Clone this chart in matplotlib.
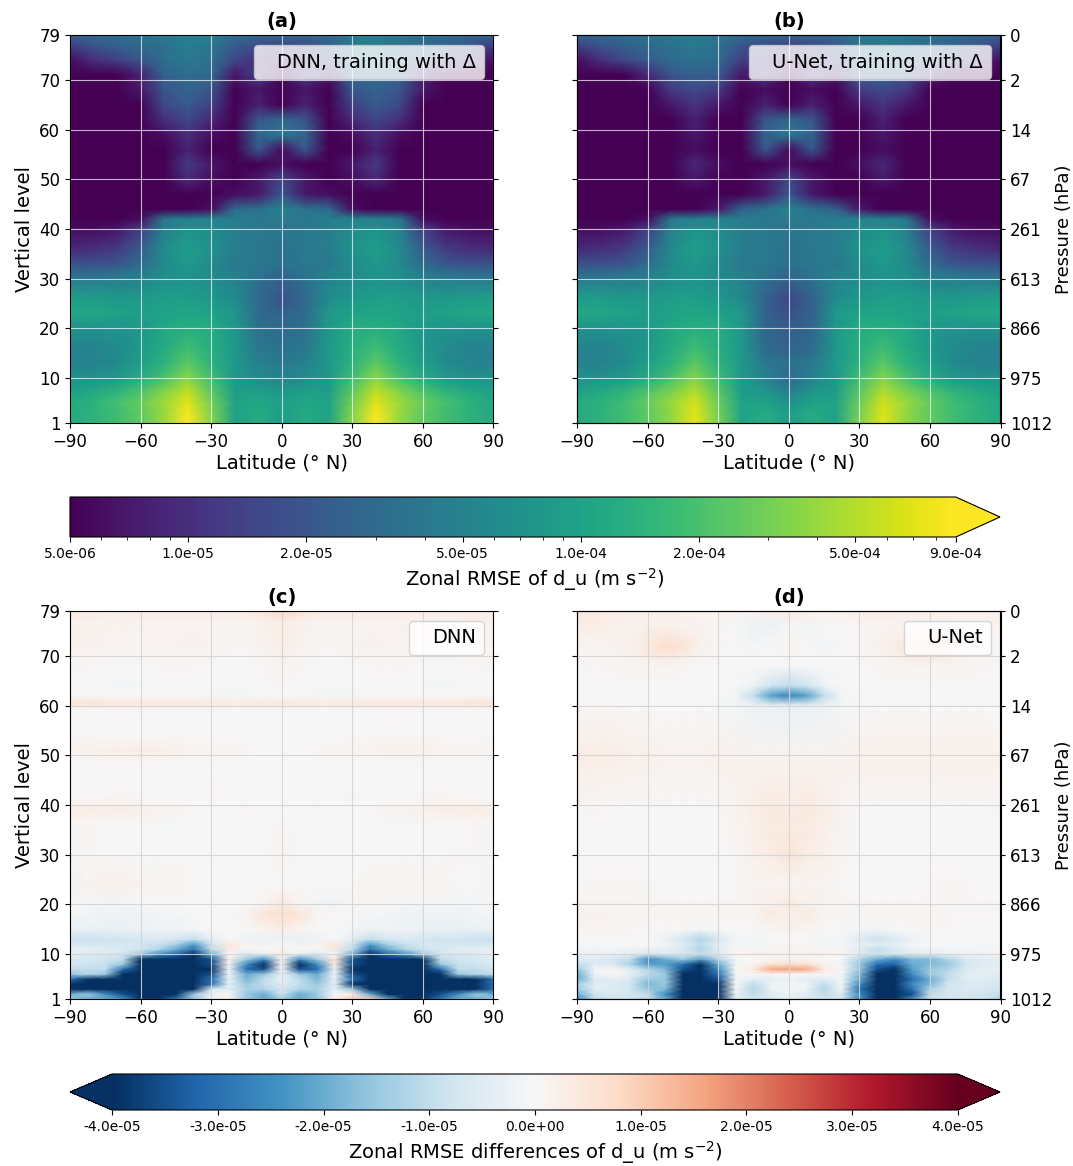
import matplotlib
matplotlib.use('Agg')
import matplotlib.pyplot as plt
from matplotlib.colors import LogNorm, Normalize
from matplotlib.cm import ScalarMappable
import numpy as np

# latitudes and levels of the RMSE panels, values are in 1e-5 m s-2
lat_rmse = [-90, -80, -70, -60, -50, -40, -30, -20, -10, 0, 10, 20, 30, 40, 50, 60, 70, 80, 90]
lev_rmse = [1, 3, 5, 7, 10, 13, 16, 20, 23, 26, 30, 33, 36, 40, 42, 44, 47, 50, 53, 56, 59, 62, 65, 68, 71, 74, 77, 79]

rmse_dnn = [
    [12, 14, 18, 25, 40, 90, 35, 10, 12, 9, 12, 10, 35, 90, 40, 25, 18, 14, 12],
    [12, 14, 18, 25, 40, 85, 33, 10, 12, 9, 12, 10, 33, 85, 40, 25, 18, 14, 11],
    [12, 14, 19, 27, 42, 72, 30, 10, 11, 9, 11, 10, 30, 72, 42, 27, 19, 14, 11],
    [10, 12, 15, 22, 35, 58, 25, 9, 10, 8, 10, 9, 25, 58, 35, 22, 15, 12, 10],
    [7, 7, 8, 12, 20, 36, 18, 8, 6, 5, 6, 8, 18, 36, 20, 12, 8, 7, 7],
    [5, 5, 6, 9, 14, 25, 14, 8, 5, 4, 5, 8, 14, 25, 14, 9, 6, 5, 5],
    [5, 5, 6, 8, 12, 18, 13, 8, 4, 3.5, 4, 8, 13, 18, 12, 8, 6, 5, 5],
    [7, 7, 7, 8, 11, 13, 12, 8, 3.5, 3, 3.5, 8, 12, 13, 11, 8, 7, 7, 7],
    [11, 11, 10, 9, 10, 11, 10, 8, 3, 2.5, 3, 8, 10, 11, 10, 9, 10, 11, 11],
    [9, 9, 8, 8, 9, 9, 8, 6, 3, 1.8, 3, 6, 8, 9, 9, 8, 8, 9, 9],
    [4, 4, 4.5, 5, 6.5, 7, 6, 5, 3.5, 2.5, 3.5, 5, 6, 7, 6.5, 5, 4.5, 4, 4],
    [1.8, 1.8, 2, 3, 6, 8, 6, 4, 4, 3.5, 4, 4, 6, 8, 6, 3, 2, 1.8, 1.8],
    [0.9, 1, 1.2, 2.2, 6, 9, 7, 4.5, 4, 3.5, 4, 4.5, 7, 9, 6, 2.2, 1.2, 1, 0.9],
    [0.6, 0.6, 0.7, 1.3, 5, 7, 6, 4.5, 4, 3.8, 4, 4.5, 6, 7, 5, 1.3, 0.7, 0.6, 0.6],
    [0.5, 0.5, 0.5, 0.6, 4, 5, 5, 4.5, 4, 4, 4, 4.5, 5, 5, 4, 0.6, 0.5, 0.5, 0.5],
    [0.45, 0.45, 0.45, 0.45, 0.5, 0.5, 0.6, 3, 3.5, 5, 3.5, 3, 0.6, 0.5, 0.5, 0.45, 0.45, 0.45, 0.45],
    [0.45, 0.45, 0.45, 0.45, 0.45, 0.5, 0.45, 0.6, 0.7, 2, 0.7, 0.6, 0.45, 0.5, 0.45, 0.45, 0.45, 0.45, 0.45],
    [0.45, 0.45, 0.45, 0.45, 0.5, 0.9, 0.6, 0.45, 0.7, 1.5, 0.7, 0.45, 0.6, 0.9, 0.5, 0.45, 0.45, 0.45, 0.45],
    [0.45, 0.45, 0.45, 0.45, 0.5, 1.2, 0.7, 0.45, 0.5, 0.6, 0.5, 0.45, 0.7, 1.2, 0.5, 0.45, 0.45, 0.45, 0.45],
    [0.45, 0.45, 0.45, 0.45, 0.5, 0.8, 0.5, 0.45, 2, 0.6, 2, 0.45, 0.5, 0.8, 0.5, 0.45, 0.45, 0.45, 0.45],
    [0.45, 0.45, 0.45, 0.45, 0.6, 1, 0.6, 0.45, 2.8, 4, 2.8, 0.45, 0.6, 1, 0.6, 0.45, 0.45, 0.45, 0.45],
    [0.45, 0.45, 0.45, 0.45, 1, 1.5, 0.9, 0.45, 2, 2.8, 2, 0.45, 0.9, 1.5, 1, 0.45, 0.45, 0.45, 0.45],
    [0.45, 0.45, 0.45, 0.5, 1.6, 2.2, 1.4, 0.45, 0.8, 0.5, 0.8, 0.45, 1.4, 2.2, 1.6, 0.5, 0.45, 0.45, 0.45],
    [0.45, 0.45, 0.45, 0.7, 2, 2.6, 2, 0.5, 0.7, 0.45, 0.7, 0.5, 2, 2.6, 2, 0.7, 0.45, 0.45, 0.45],
    [0.45, 0.5, 0.5, 0.8, 2.5, 3.2, 2.8, 0.7, 1.3, 0.5, 1.3, 0.7, 2.8, 3.2, 2.5, 0.8, 0.5, 0.5, 0.45],
    [0.6, 1, 1.3, 2, 3.2, 4, 3.5, 1.5, 1, 0.7, 1, 1.5, 3.5, 4, 3.2, 2, 1.3, 1, 0.6],
    [1.3, 2, 2.5, 3, 3.5, 4.5, 4, 2.2, 1.7, 1.5, 1.7, 2.2, 4, 4.5, 3.5, 3, 2.5, 2, 1.3],
    [2.5, 2.8, 3, 3.5, 4, 5, 4.5, 3, 2.8, 2.8, 2.8, 3, 4.5, 5, 4, 3.5, 3, 2.8, 2.5],
]

rmse_unet = [
    [12, 14, 18, 25, 38, 75, 32, 10, 12, 9, 12, 10, 32, 72, 38, 25, 18, 14, 12],
    [12, 14, 18, 25, 38, 72, 30, 10, 12, 9, 12, 10, 30, 70, 38, 25, 18, 14, 11],
    [12, 14, 18, 26, 40, 65, 28, 10, 10, 7, 10, 10, 28, 62, 40, 26, 18, 14, 11],
    [10, 12, 15, 22, 33, 52, 24, 9, 8, 5, 8, 9, 24, 50, 33, 22, 15, 12, 10],
    [7, 7, 8, 12, 20, 34, 18, 8, 5, 2.8, 5, 8, 18, 34, 20, 12, 8, 7, 7],
    [5, 5, 6, 9, 14, 24, 14, 8, 4, 3.5, 4, 8, 14, 24, 14, 9, 6, 5, 5],
    [5, 5, 6, 8, 12, 18, 13, 8, 3, 2.5, 3, 8, 13, 18, 12, 8, 6, 5, 5],
    [7, 7, 7, 8, 11, 13, 12, 8, 2.8, 2.2, 2.8, 8, 12, 13, 11, 8, 7, 7, 7],
    [11, 11, 10, 9, 10, 11, 10, 8, 2.5, 1.8, 2.5, 8, 10, 11, 10, 9, 10, 11, 11],
    [9, 9, 8, 8, 9, 9, 8, 6, 2.5, 1.5, 2.5, 6, 8, 9, 9, 8, 8, 9, 9],
    [4, 4, 4.5, 5, 6.5, 7, 6, 5, 3.5, 2.5, 3.5, 5, 6, 7, 6.5, 5, 4.5, 4, 4],
    [1.8, 1.8, 2, 3, 6, 8, 6, 4, 4, 3.5, 4, 4, 6, 8, 6, 3, 2, 1.8, 1.8],
    [0.9, 1, 1.2, 2.2, 6, 9, 7, 4.5, 4, 3.5, 4, 4.5, 7, 9, 6, 2.2, 1.2, 1, 0.9],
    [0.6, 0.6, 0.7, 1.3, 5, 7, 6, 4.5, 4, 3.8, 4, 4.5, 6, 7, 5, 1.3, 0.7, 0.6, 0.6],
    [0.5, 0.5, 0.5, 0.6, 4, 5, 5, 4.5, 4, 4, 4, 4.5, 5, 5, 4, 0.6, 0.5, 0.5, 0.5],
    [0.45, 0.45, 0.45, 0.45, 0.5, 0.5, 0.7, 2.5, 3.5, 5, 3.5, 2.5, 0.7, 0.5, 0.5, 0.45, 0.45, 0.45, 0.45],
    [0.45, 0.45, 0.45, 0.45, 0.45, 0.45, 0.45, 0.5, 0.7, 2, 0.7, 0.5, 0.45, 0.45, 0.45, 0.45, 0.45, 0.45, 0.45],
    [0.45, 0.45, 0.45, 0.45, 0.45, 0.7, 0.5, 0.45, 0.7, 1.5, 0.7, 0.45, 0.5, 0.7, 0.45, 0.45, 0.45, 0.45, 0.45],
    [0.45, 0.45, 0.45, 0.45, 0.5, 0.9, 0.6, 0.45, 0.5, 0.6, 0.5, 0.45, 0.6, 0.9, 0.5, 0.45, 0.45, 0.45, 0.45],
    [0.45, 0.45, 0.45, 0.45, 0.45, 0.6, 0.45, 0.45, 2, 0.6, 2, 0.45, 0.45, 0.6, 0.45, 0.45, 0.45, 0.45, 0.45],
    [0.45, 0.45, 0.45, 0.45, 0.5, 0.7, 0.5, 0.45, 2.6, 4, 2.6, 0.45, 0.5, 0.7, 0.5, 0.45, 0.45, 0.45, 0.45],
    [0.45, 0.45, 0.45, 0.45, 0.5, 0.8, 0.5, 0.45, 2, 2.8, 2, 0.45, 0.5, 0.8, 0.5, 0.45, 0.45, 0.45, 0.45],
    [0.45, 0.45, 0.45, 0.45, 0.7, 1.1, 0.7, 0.45, 0.8, 0.5, 0.8, 0.45, 0.7, 1.1, 0.7, 0.45, 0.45, 0.45, 0.45],
    [0.45, 0.45, 0.45, 0.5, 1.2, 1.6, 1.2, 0.45, 0.6, 0.45, 0.6, 0.45, 1.2, 1.6, 1.2, 0.5, 0.45, 0.45, 0.45],
    [0.45, 0.45, 0.5, 0.9, 2, 2.5, 2.2, 0.7, 1.2, 0.5, 1.2, 0.7, 2.2, 2.5, 2, 0.9, 0.5, 0.45, 0.45],
    [0.6, 1, 1.5, 2.2, 3, 3.5, 3, 1.3, 1, 0.7, 1, 1.3, 3, 3.5, 3, 2.2, 1.5, 1, 0.6],
    [1.4, 2, 2.5, 3, 3.5, 4.2, 3.5, 2, 1.6, 1.4, 1.6, 2, 3.5, 4.2, 3.5, 3, 2.5, 2, 1.4],
    [2.5, 2.8, 3, 3.5, 4, 4.5, 4, 3, 2.8, 2.8, 2.8, 3, 4, 4.5, 4, 3.5, 3, 2.8, 2.5],
]

# latitudes and levels of the difference panels, also in 1e-5 m s-2
lat_diff = [-90, -82.5, -75, -67.5, -60, -52.5, -45, -37.5, -30, -22.5, -15, -7.5, 0,
            7.5, 15, 22.5, 30, 37.5, 45, 52.5, 60, 67.5, 75, 82.5, 90]
lev_dnn = [1, 2, 3, 4, 5, 6, 7, 8, 9, 10, 11, 12, 13, 15, 18, 20, 24, 30, 36, 39, 42, 48, 51, 54, 59, 60.5,
           62, 64, 68, 72, 77, 79]
lev_unet = [1, 2, 3, 4, 5, 6, 7, 8, 9, 10, 11, 12, 13, 15, 18, 20, 24, 30, 39, 50, 60, 62, 64, 68, 72, 76, 79]

diff_dnn = [
    [-1.5, -2, -2, -2.5, -4, -4, -3, -1.5, -0.3, 0.3, -1.5, -2, -1.5, -2, -1.5, 0.3, 1, 1, -2, -4, -4, -3, -2, -2, -1.5],
    [-2, -1.5, -2.5, -3.5, -4, -4, -4, -1.5, -0.2, 0, -1.5, -2, -0.8, -2, -1.5, 0, 0.3, -2, -4, -4, -4, -3.5, -2.5, -1.5, -2],
    [-4, -4, -4, -4, -4, -4, -4, -4, -0.6, -0.4, -1.3, -1.2, -0.7, -1.2, -1.3, -0.4, -1.5, -4, -4, -4, -4, -4, -4, -4, -3],
    [-4, -4, -4, -4, -4, -4, -4, -4, -3, -0.4, -1.5, -1, -0.5, -1, -1.5, -0.4, -4, -4, -4, -4, -4, -4, -4, -4, -3],
    [-3, -4, -4, -4, -4, -4, -4, -4, -3, -0.3, -1.8, -1, -0.3, -1, -1.8, -0.3, -3, -4, -4, -4, -4, -4, -4, -4, -3],
    [-1.5, -1.2, -1.5, -4, -4, -4, -4, -4, -3.5, -0.2, -2, -1.5, -0.3, -1.5, -2, -0.2, -3.5, -4, -4, -4, -4, -4, -1.5, -1.2, -1],
    [-1, -1, -1, -3, -4, -4, -4, -4, -4, -0.2, -3, -3.5, 0, -3.5, -3, -0.2, -4, -4, -4, -4, -4, -3, -1, -1, -0.8],
    [-0.7, -0.8, -0.9, -1.5, -4, -4, -4, -4, -3.5, 0.2, -2.5, -4, 0, -4, -2.5, 0.4, -3.5, -4, -4, -4, -4, -1.5, -0.9, -0.8, -0.6],
    [-0.6, -0.7, -0.8, -1, -4, -4, -4, -4, -3.5, 0.3, -1.5, -2.5, 0.1, -2.5, -1.5, 0.5, -3.5, -4, -4, -4, -4, -1, -0.8, -0.7, -0.5],
    [-0.4, -0.5, -0.6, -0.8, -1.5, -2.5, -3.2, -4, -2, 0, -0.6, -0.3, 0.3, -0.3, -0.6, 0, -2, -4, -3.2, -2.5, -1.5, -0.8, -0.6, -0.5, -0.4],
    [-0.3, -0.4, -0.5, -0.6, -0.8, -1.2, -2, -3, -1, 0.4, -0.1, 0, 0.1, 0, -0.1, 0.4, -1, -3, -2, -1.2, -0.8, -0.6, -0.5, -0.4, -0.3],
    [-0.7, -0.7, -0.7, -0.7, -0.7, -0.9, -1.3, -2.2, -0.8, 0.4, 0.1, -0.2, 0, -0.2, 0.1, 0.4, -0.8, -2.2, -1.3, -0.9, -0.7, -0.7, -0.7, -0.7, -0.7],
    [-0.9, -0.9, -0.8, -0.8, -0.7, -0.6, -0.7, -1, -0.4, 0, -0.2, -0.3, -0.2, -0.3, -0.2, 0, -0.4, -1, -0.7, -0.6, -0.7, -0.8, -0.8, -0.9, -0.9],
    [-0.3, -0.3, -0.3, -0.3, -0.2, -0.2, -0.2, -0.1, 0, 0, 0, 0.1, 0.3, 0.1, 0, 0, -0.1, -0.2, -0.2, -0.2, -0.3, -0.3, -0.3, -0.3, -0.3],
    [-0.1, -0.1, -0.2, -0.2, -0.2, -0.1, -0.1, 0, 0, 0, 0.1, 0.5, 0.7, 0.5, 0.1, 0, 0, -0.1, -0.1, -0.2, -0.2, -0.2, -0.2, -0.1, -0.1],
    [0, -0.1, -0.1, -0.1, 0, 0, 0, 0, 0, 0, 0, 0.1, 0.4, 0.1, -0.1, -0.2, 0, 0.1, 0, -0.1, -0.1, -0.1, -0.1, -0.1, 0],
    [-0.2, 0.1, 0.2, 0.2, 0.1, 0.1, 0.1, 0, 0, 0, 0, 0, 0, 0, 0, 0, 0, 0.1, 0.1, 0.1, 0.1, 0.1, 0, 0, -0.1],
    [0.05, 0.05, 0, 0, -0.05, -0.05, 0, 0, -0.05, 0, 0, 0, 0.1, 0, 0, 0, -0.05, 0, 0, -0.05, 0, 0, 0.05, 0.05, 0.05],
    [0.05, 0.05, 0, 0, 0, -0.05, -0.05, 0, 0, 0, 0, 0, 0.05, 0, 0, 0, 0, 0, -0.05, -0.05, 0, 0, 0, 0.05, 0.05],
    [0.25, 0.3, 0.3, 0.3, 0.2, 0.15, 0.1, 0, 0, 0, 0.05, 0, 0, 0, 0.05, 0, 0, 0, 0.1, 0.15, 0.2, 0.25, 0.3, 0.3, 0.3],
    [0, 0, 0, 0.05, 0, 0, 0, 0, 0.05, 0, 0, 0, 0, 0, 0, 0, 0.05, 0, 0, 0, 0, 0.05, 0, 0, 0],
    [-0.05, 0, 0, 0, 0, 0, 0, 0, 0, 0, 0, 0, 0, 0, 0, 0, 0, 0, 0, 0, 0, 0, 0, 0, -0.05],
    [0.1, 0.2, 0.25, 0.25, 0.3, 0.25, 0.2, 0.1, 0.1, 0.1, 0.05, 0, 0, 0, 0.05, 0.1, 0.1, 0.15, 0.2, 0.2, 0.2, 0.15, 0.1, 0.1, 0.05],
    [0.05, 0, 0, 0, 0, 0, 0, 0, 0, 0, 0, 0, 0, 0, 0, 0, 0, 0, 0, 0, 0, 0, 0, 0, 0.05],
    [0, 0, 0, 0.05, 0.05, 0, 0, 0, 0, 0, 0, 0, 0, 0, 0, 0, 0, 0, 0.05, 0.05, 0, 0, 0, 0, 0],
    [0.5, 0.5, 0.45, 0.4, 0.4, 0.35, 0.35, 0.4, 0.35, 0.3, 0.3, 0.35, 0.35, 0.35, 0.3, 0.3, 0.35, 0.4, 0.35, 0.35, 0.4, 0.4, 0.45, 0.5, 0.5],
    [-0.05, 0, 0, 0, 0, 0, 0, -0.05, -0.1, -0.1, -0.1, -0.05, 0, -0.05, -0.1, -0.1, -0.1, -0.05, 0, 0, 0, 0, 0, 0, -0.05],
    [0, 0, -0.05, -0.1, -0.05, 0, 0, 0, 0, 0, 0, 0, 0.05, 0, 0, 0, 0, 0, 0, 0, -0.05, -0.1, -0.05, 0, 0],
    [0.05, 0.05, 0, 0, 0, 0.05, 0.05, 0.05, 0, 0, 0, 0.05, 0.1, 0.05, 0, 0, 0, 0.05, 0.05, 0.05, 0, 0, 0, 0.05, 0.05],
    [0.15, 0.15, 0.1, 0.1, 0.1, 0.1, 0.1, 0.15, 0.1, 0.05, 0.05, 0.15, 0.3, 0.15, 0.05, 0.05, 0.1, 0.15, 0.1, 0.1, 0.1, 0.1, 0.1, 0.15, 0.15],
    [0.15, 0.2, 0.15, 0.15, 0.15, 0.1, 0.1, 0.1, 0.1, 0.1, 0.1, 0.2, 0.3, 0.2, 0.1, 0.1, 0.1, 0.1, 0.1, 0.15, 0.15, 0.15, 0.15, 0.2, 0.15],
    [0.35, 0.35, 0.3, 0.3, 0.35, 0.35, 0.4, 0.4, 0.35, 0.3, 0.4, 0.6, 0.9, 0.6, 0.4, 0.3, 0.35, 0.4, 0.4, 0.35, 0.35, 0.3, 0.3, 0.35, 0.35],
]

diff_unet = [
    [-2.5, -1, -0.8, -0.8, -1, -2, -4, -4, -4, -0.5, -0.8, -0.6, -0.3, -0.6, -0.8, -0.8, -2.5, -4, -4, -2.5, -0.9, -0.7, -0.7, -0.8, -1.2],
    [-2, -0.8, -0.6, -0.8, -1, -2.5, -4, -4, -4, -0.3, -1, -0.5, -0.2, -0.5, -1, -0.6, -2.5, -4, -4, -3.5, -1, -0.8, -0.7, -0.8, -1],
    [-1.5, -0.5, -0.5, -0.8, -1.5, -1.8, -4, -4, -4, -0.1, -1.2, -0.2, -0.1, -0.2, -1.2, -0.1, -3, -4, -4, -3, -1.2, -0.7, -0.6, -0.6, -0.8],
    [-1.3, -0.5, -0.5, -0.7, -1.8, -1.5, -4, -4, -4, 0, -1, -0.2, -0.1, -0.2, -1, -0.1, -2.5, -4, -4, -2.5, -1.8, -0.8, -0.6, -0.6, -0.7],
    [-2, -0.6, -0.4, -0.6, -1.5, -1.5, -4, -4, -3.5, -0.1, -0.4, -0.4, -0.2, -0.4, -0.5, -0.1, -2, -4, -4, -3, -2, -1, -0.5, -0.5, -0.6],
    [-2, -0.2, 0, -0.3, -1, -1.5, -4, -4, -3, -0.1, 0, 0.1, 0, 0, 0, -0.1, -1.8, -4, -4, -2.5, -1.5, -1, -0.5, -0.4, -0.5],
    [-1.5, -0.1, 0.1, -0.4, -1.2, -1.8, -3.5, -4, -2.5, 0, 0.4, 1.5, 1.6, 1.5, 0.4, 0, -1.5, -3.5, -4, -2.2, -1.5, -1.2, -0.6, -0.4, -0.4],
    [-1, -0.5, -0.6, -1.2, -2.2, -2.2, -3, -4, -2, -0.1, 0.1, 0.6, 0.7, 0.6, 0.1, -0.1, -1.5, -3, -3.2, -2, -1.8, -1.5, -0.8, -0.5, -0.5],
    [-0.5, -0.5, -0.7, -1, -2.5, -2, -1.5, -2.2, -1.2, -0.1, 0, 0.1, 0.1, 0.1, 0, -0.1, -1.2, -2, -2.5, -1.8, -1.8, -1.2, -0.6, -0.5, -0.4],
    [-0.3, -0.3, -0.3, -0.4, -0.8, -0.6, -0.6, -1, -0.5, 0.1, 0.2, 0.1, 0.2, 0.1, 0.2, 0.1, -0.5, -0.9, -0.7, -0.5, -0.4, -0.3, -0.2, -0.2, 0.1],
    [-0.1, -0.1, -0.1, -0.2, -0.3, -0.3, -0.6, -1.2, -0.5, 0, 0, 0.1, 0.1, 0.1, 0, 0, -0.5, -1, -0.6, -0.2, -0.2, -0.1, -0.1, -0.1, -0.1],
    [-0.1, -0.1, 0, 0, 0, -0.1, -0.5, -1, -0.4, -0.1, -0.1, 0, 0.1, 0, -0.1, -0.1, -0.3, -0.5, -0.4, -0.1, 0, 0, 0, -0.1, -0.1],
    [0, 0, 0, 0, 0, -0.3, -0.7, -1.2, -0.6, -0.1, -0.1, 0, 0, 0, -0.1, -0.1, -0.5, -0.9, -0.6, -0.2, 0, 0, 0, 0, 0],
    [0.1, 0.1, 0.1, 0.05, 0, 0, 0, -0.1, 0, 0, 0, 0.1, 0.2, 0.1, 0, 0, -0.1, -0.1, 0, 0, 0.05, 0.05, 0, 0, 0],
    [0.15, 0.15, 0.1, 0.1, 0.1, 0.1, 0.15, 0.1, 0.1, 0.05, 0.1, 0.35, 0.2, 0.35, 0.1, 0.05, 0.05, 0.1, 0.1, 0.1, 0.1, 0.05, 0.05, 0.05, 0.05],
    [0.1, 0.1, 0.1, 0.1, 0.05, 0.05, 0.05, 0.05, 0.05, 0.05, 0.1, 0.2, 0.4, 0.2, 0.1, 0.05, 0.05, 0.05, 0.05, 0.05, 0.05, 0.05, 0.05, 0.05, 0.05],
    [0.05, 0.05, 0.05, 0.05, 0.05, 0, 0, 0, 0, 0, 0.1, 0.1, 0.1, 0.1, 0.1, 0, 0, 0, 0, 0, 0.05, 0.05, 0.05, 0, 0],
    [0, 0, 0, 0, 0, 0, 0, 0, 0, 0.05, 0.2, 0.3, 0.5, 0.3, 0.2, 0.05, 0, 0, 0, 0, 0, 0, 0, 0, 0],
    [0.05, 0.05, 0, 0, 0, 0, 0, 0, 0, 0.1, 0.25, 0.4, 0.3, 0.4, 0.25, 0.1, 0, 0, 0, 0, 0, 0, 0, 0, 0.05],
    [0.3, 0.3, 0.25, 0.2, 0.2, 0.15, 0.15, 0.15, 0.2, 0.15, 0.1, 0.1, 0.1, 0.1, 0.1, 0.15, 0.2, 0.2, 0.2, 0.2, 0.2, 0.2, 0.2, 0.2, 0.15],
    [0.05, 0.05, 0.05, 0, 0, 0, 0, 0, -0.05, -0.1, -0.2, -0.3, -0.3, -0.3, -0.2, -0.1, -0.05, 0, 0, 0, 0, 0, 0, 0, 0],
    [0, 0, 0, 0, 0, 0, 0, 0, 0, -0.1, -1, -2.2, -2.6, -2.2, -1, -0.1, 0, 0, 0, 0, 0, 0, 0, 0, 0],
    [0, 0, 0, 0, 0, 0, 0, 0, 0, 0, -0.2, -0.8, -1, -0.8, -0.2, 0, 0, 0, 0, 0, 0, 0, 0, 0, 0],
    [0.05, 0.05, 0.05, 0.1, 0.1, 0.1, 0.05, 0, 0, 0, 0, 0, 0, 0, 0, 0, 0, 0.05, 0.1, 0.1, 0.1, 0.15, 0.1, 0.05, 0.05],
    [0.1, 0.1, 0.1, 0.2, 0.4, 0.7, 0.5, 0.2, 0.05, 0, -0.1, 0, 0.1, 0, -0.1, 0, 0.05, 0.15, 0.3, 0.5, 0.6, 0.4, 0.1, 0.05, 0.05],
    [0.3, 0.3, 0.2, 0.15, 0.2, 0.2, 0.15, 0.1, 0.05, 0, -0.2, -0.3, 0.05, -0.1, 0, 0, 0.05, 0.1, 0.1, 0.15, 0.2, 0.15, 0.1, 0.1, 0.1],
    [0.35, 0.35, 0.3, 0.25, 0.2, 0.2, 0.2, 0.15, 0.15, 0.1, 0.15, 0.2, 0.4, 0.2, 0.15, 0.2, 0.3, 0.35, 0.3, 0.2, 0.2, 0.15, 0.2, 0.2, 0.2],
]

lat_ticks = [-90, -60, -30, 0, 30, 60, 90]
lev_ticks = [1, 10, 20, 30, 40, 50, 60, 70, 79]
pressure_labels = ['1012', '975', '866', '613', '261', '67', '14', '2', '0']

rmse_ticks = [5e-6, 1e-5, 2e-5, 5e-5, 1e-4, 2e-4, 5e-4, 9e-4]
rmse_minor = [6e-6, 7e-6, 8e-6, 9e-6, 3e-5, 4e-5, 6e-5, 7e-5, 8e-5, 9e-5, 3e-4, 4e-4, 6e-4, 7e-4, 8e-4]
diff_ticks = [-4e-5, -3e-5, -2e-5, -1e-5, 0, 1e-5, 2e-5, 3e-5, 4e-5]

W, H = 1073., 1166.
XL = [70, 577]
AX_W = 423.5


def make_axes(x0, y0, y1):
    return fig.add_axes([x0 / W, 1 - y1 / H, AX_W / W, (y1 - y0) / H])


def draw_panel(ax, lats, levs, data, cmap, norm, title, legend_text, grid_colour, grid_alpha, left):
    X, Y = np.meshgrid(lats, levs)
    ax.pcolormesh(X, Y, np.array(data) * 1e-5, cmap=cmap, norm=norm, shading='gouraud', rasterized=True)
    ax.set_xlim(-90, 90)
    ax.set_ylim(1, 79)
    ax.set_xticks(lat_ticks)
    ax.set_yticks(lev_ticks)
    ax.grid(True, color=grid_colour, linewidth=0.8, alpha=grid_alpha)
    ax.tick_params(labelsize=12, right=True)
    ax.set_xlabel('Latitude (° N)', fontsize=14, labelpad=2)
    ax.set_title(title, fontsize=14, fontweight='bold', pad=6)
    ax.plot([], [], alpha=0, label=legend_text)
    ax.legend(loc='upper right', fontsize=14, handlelength=0.6, handletextpad=0.2)

    if left:
        ax.set_ylabel('Vertical level', fontsize=14)
    else:
        ax.set_yticklabels([])
        ax2 = ax.twinx()
        ax2.set_ylim(1, 79)
        ax2.set_yticks(lev_ticks)
        ax2.set_yticklabels(pressure_labels)
        ax2.tick_params(labelsize=12)
        ax2.set_ylabel('Pressure (hPa)', fontsize=13, labelpad=2)


fig = plt.figure(figsize=(W / 100, H / 100), dpi=100)

log_norm = LogNorm(vmin=5e-6, vmax=9e-4)
diff_norm = Normalize(vmin=-4e-5, vmax=4e-5)

draw_panel(make_axes(XL[0], 35, 423), lat_rmse, lev_rmse, rmse_dnn, 'viridis', log_norm,
           '(a)', 'DNN, training with Δ', 'white', 0.7, True)
draw_panel(make_axes(XL[1], 35, 423), lat_rmse, lev_rmse, rmse_unet, 'viridis', log_norm,
           '(b)', 'U-Net, training with Δ', 'white', 0.7, False)
draw_panel(make_axes(XL[0], 611, 999), lat_diff, lev_dnn, diff_dnn, 'RdBu_r', diff_norm,
           '(c)', 'DNN', 'lightgray', 0.9, True)
draw_panel(make_axes(XL[1], 611, 999), lat_diff, lev_unet, diff_unet, 'RdBu_r', diff_norm,
           '(d)', 'U-Net', 'lightgray', 0.9, False)

# colorbars
cax1 = fig.add_axes([70 / W, 1 - 537 / H, 930 / W, 40 / H])
cb1 = fig.colorbar(ScalarMappable(norm=log_norm, cmap='viridis'), cax=cax1, orientation='horizontal',
                   extend='max', extendfrac=0.05)
cb1.set_ticks(rmse_ticks)
cb1.set_ticklabels(['%.1e' % t for t in rmse_ticks])
cb1.ax.xaxis.set_ticks(rmse_minor, minor=True)
cb1.ax.xaxis.set_minor_formatter(plt.NullFormatter())
cb1.ax.tick_params(labelsize=10)
cb1.set_label('Zonal RMSE of d_u (m s$^{-2}$)', fontsize=14)
# label is centred on the whole bar with its extension
cb1.ax.xaxis.label.set_x(0.525)

cax2 = fig.add_axes([70 / W, 1 - 1110 / H, 930 / W, 36 / H])
cb2 = fig.colorbar(ScalarMappable(norm=diff_norm, cmap='RdBu_r'), cax=cax2, orientation='horizontal',
                   extend='both', extendfrac=0.05)
cb2.set_ticks(diff_ticks)
cb2.set_ticklabels(['%.1e' % t for t in diff_ticks])
cb2.ax.tick_params(labelsize=10)
cb2.set_label('Zonal RMSE differences of d_u (m s$^{-2}$)', fontsize=14)

fig.savefig('out.png', dpi=100)
